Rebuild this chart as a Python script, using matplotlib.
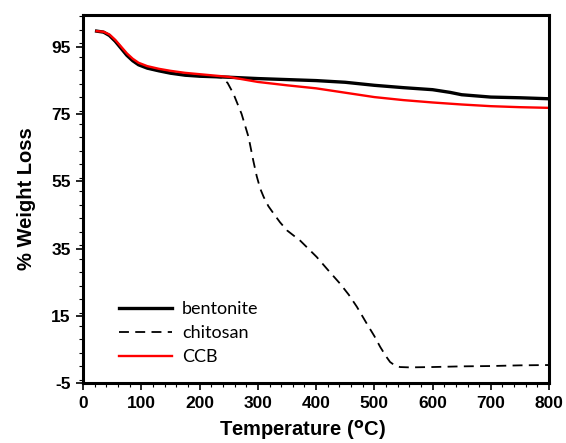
import numpy as np
import matplotlib
matplotlib.use("Agg")
import matplotlib.pyplot as plt
from matplotlib.ticker import MultipleLocator

matplotlib.rc('font', family=['Liberation Sans', 'DejaVu Sans'], size=12)
matplotlib.rcParams['axes.unicode_minus'] = False

# values
temp_b = [23, 35, 45, 55, 65, 75, 85, 95, 110, 130, 150, 175, 200, 250, 300, 350, 400, 450,
          500, 550, 600, 630, 650, 700, 750, 800]
bentonite = [99.6, 99.3, 98.3, 96.6, 94.5, 92.4, 90.8, 89.6, 88.6, 87.8, 87.1, 86.5, 86.2, 85.9,
             85.5, 85.2, 84.9, 84.4, 83.5, 82.8, 82.2, 81.4, 80.7, 80.0, 79.8, 79.5]

temp_c = [23, 35, 45, 55, 65, 75, 85, 95, 110, 130, 150, 175, 200, 225, 238, 248, 258, 272,
          284, 292, 298, 304, 310, 318, 327, 338, 350, 373, 401, 420, 441, 456, 470, 487, 500,
          510, 520, 527, 535, 544, 560, 600, 650, 700, 750, 800]
chitosan = [99.6, 99.3, 98.3, 96.6, 94.5, 92.4, 90.8, 89.6, 88.6, 87.8, 87.1, 86.5, 86.2, 86.0,
            85.8, 84.2, 81.0, 75.0, 68.1, 61.2, 56.5, 52.8, 50.3, 47.6, 45.4, 42.8, 40.4, 37.3,
            32.5, 28.7, 24.6, 21.3, 17.7, 12.7, 9.0, 5.8, 3.0, 1.3, 0.3, -0.2, -0.3, -0.2, 0.0,
            0.1, 0.3, 0.4]

temp_r = [23, 35, 45, 55, 65, 75, 85, 95, 110, 130, 150, 175, 200, 250, 300, 350, 400, 450,
          500, 550, 600, 650, 700, 750, 800]
ccb = [99.6, 99.4, 98.6, 97.0, 95.0, 93.0, 91.4, 90.2, 89.2, 88.4, 87.8, 87.2, 86.8, 86.0,
       84.5, 83.5, 82.6, 81.3, 80.0, 79.1, 78.4, 77.8, 77.3, 77.0, 76.8]

fig = plt.figure(figsize=(5.66, 4.43), dpi=100)
ax = fig.add_axes([0.147, 0.135, 0.823, 0.832])

ax.plot(temp_b, bentonite, color='black', lw=2.4, label='bentonite')
ax.plot(temp_c, chitosan, color='black', lw=1.3, dashes=(5.5, 3.5), label='chitosan')
ax.plot(temp_r, ccb, color='red', lw=1.7, label='CCB')

ax.set_xlim(0, 800)
ax.set_ylim(-5, 104.5)
ax.set_xticks(np.arange(0, 801, 100))
ax.set_yticks(np.arange(-5, 96, 20))
ax.xaxis.set_minor_locator(MultipleLocator(20))
ax.yaxis.set_minor_locator(MultipleLocator(4))
ax.tick_params(which='major', direction='out', length=5, width=1.2, pad=4)
ax.tick_params(which='minor', direction='out', length=3, width=0.8)
for lab in ax.get_xticklabels() + ax.get_yticklabels():
    lab.set_fontweight('bold')
    lab.set_fontsize(12.5)
for s in ax.spines.values():
    s.set_linewidth(2.2)

ax.set_xlabel(r'Temperature ($^{\mathbf{o}}$C)', fontsize=14.5, fontweight='bold', labelpad=6)
ax.xaxis.set_label_coords(0.47, -0.095)
ax.set_ylabel('% Weight Loss', fontsize=14.5, fontweight='bold', labelpad=11)

ax.legend(loc='lower left', bbox_to_anchor=(0.043, 0.005), frameon=False, handlelength=2.9,
          handletextpad=0.55, labelspacing=0.45, prop={'family': 'Lato', 'size': 13})

fig.savefig('out.png', dpi=100)
